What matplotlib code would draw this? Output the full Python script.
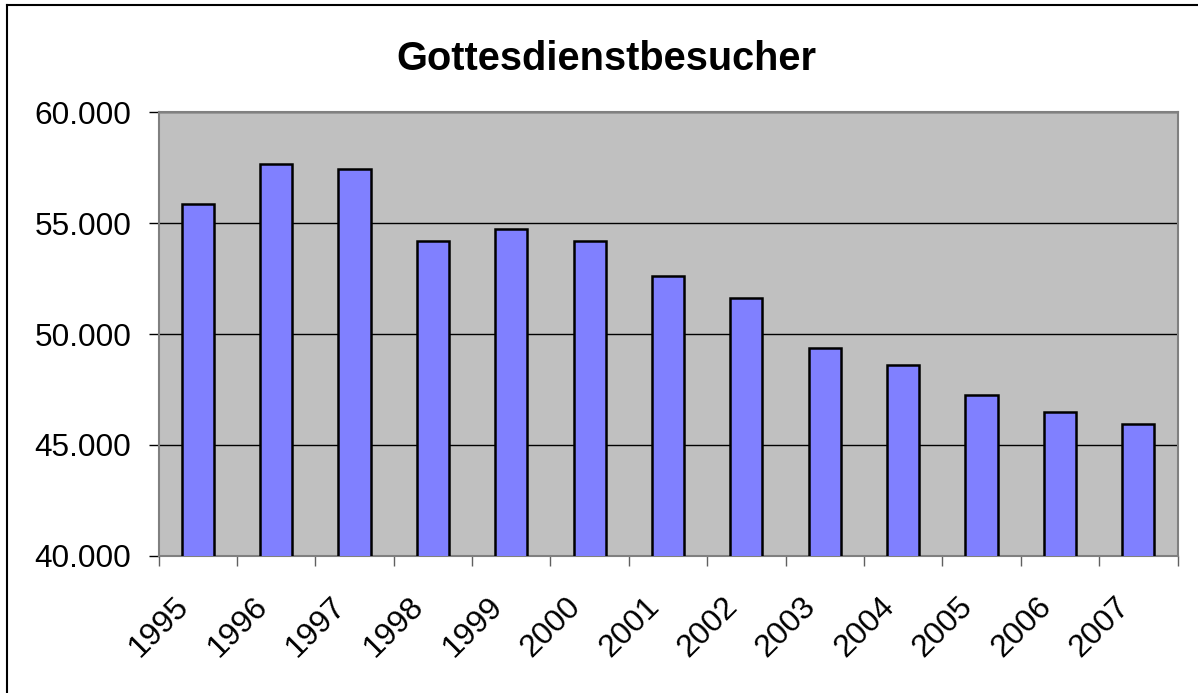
import matplotlib
matplotlib.use("Agg")
import matplotlib.pyplot as plt
from matplotlib.transforms import ScaledTranslation
from matplotlib.lines import Line2D
import numpy as np

years = ["1995", "1996", "1997", "1998", "1999", "2000", "2001",
         "2002", "2003", "2004", "2005", "2006", "2007"]
visitors = [55860, 57670, 57440, 54180, 54750, 54180, 52630,
            51610, 49380, 48590, 47260, 46480, 45940]
y_ticks = [40000, 45000, 50000, 55000, 60000]
y_labels = ["40.000", "45.000", "50.000", "55.000", "60.000"]
title = "Gottesdienstbesucher"

plt.rcParams['font.family'] = ['Liberation Sans', 'DejaVu Sans']

W, H = 1198, 693
fig = plt.figure(figsize=(W / 100, H / 100), dpi=100)
fig.patch.set_facecolor('white')

# outer chart border (top & left visible)
fig.add_artist(Line2D([7 / W, 7 / W], [0, 1 - 5 / H], transform=fig.transFigure,
                      color='black', lw=1.5))
fig.add_artist(Line2D([7 / W, 1], [1 - 5 / H, 1 - 5 / H], transform=fig.transFigure,
                      color='black', lw=1.5))

left, right = 158.5 / W, 1177.5 / W
top, bottom = 1 - 112.3 / H, 1 - 555.7 / H
ax = fig.add_axes([left, bottom, right - left, top - bottom])
ax.set_facecolor('#C0C0C0')

x = np.arange(len(years))
ax.bar(x, visitors, width=0.41, color='#8080FF', edgecolor='black',
       linewidth=1.8, zorder=3)

ax.set_xlim(-0.5, len(years) - 0.5)
ax.set_ylim(40000, 60000)

ax.set_yticks(y_ticks)
ax.set_yticklabels(y_labels, fontsize=22.7)
ax.yaxis.grid(True, color='black', linewidth=1.0, zorder=0)
ax.set_axisbelow(True)
ax.tick_params(axis='y', direction='out', length=7.5, width=1, color='black', pad=12)

ax.set_xticks(x)
ax.set_xticks(np.arange(-0.5, len(years), 1.0), minor=True)
labels = ax.set_xticklabels(years, fontsize=23, rotation=45, ha='right', va='top',
                            rotation_mode='anchor')
ax.tick_params(axis='x', which='major', length=0, pad=26)
ax.tick_params(axis='x', which='minor', direction='out', length=7.5, width=1,
               color='#606060')
offset = ScaledTranslation(-24 / 100, 0, fig.dpi_scale_trans)
for lab in labels:
    lab.set_transform(lab.get_transform() + offset)

for s in ax.spines.values():
    s.set_color('#808080')
    s.set_linewidth(1.5)

fig.text(606.5 / W, 1 - 70 / H, title, ha='center', va='baseline',
         fontsize=28.6, fontweight='bold')

fig.savefig('out.png', dpi=100, facecolor='white')
